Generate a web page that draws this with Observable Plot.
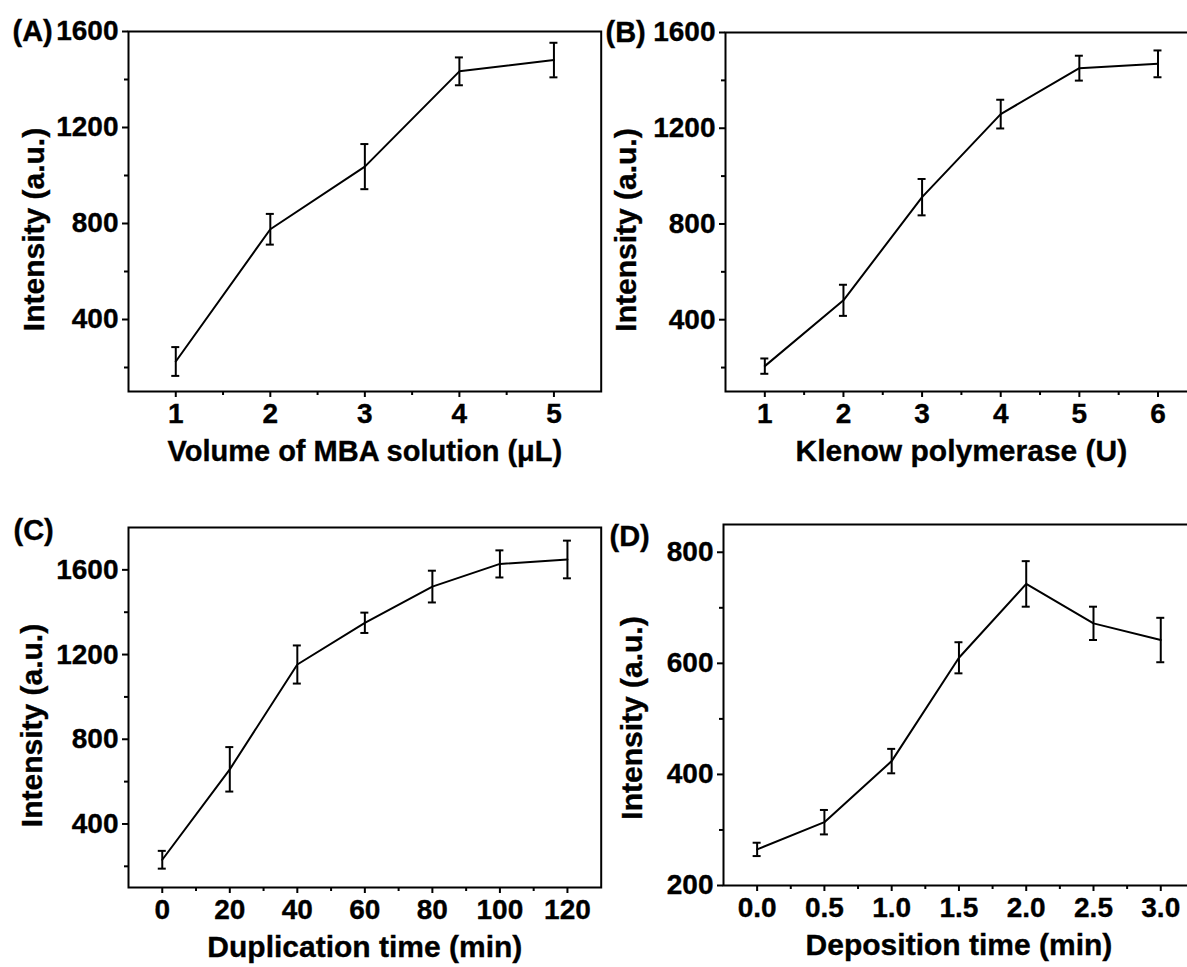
<!DOCTYPE html>
<html>
<head>
<meta charset="utf-8">
<script src="https://cdn.jsdelivr.net/npm/d3@7"></script>
<script src="https://cdn.jsdelivr.net/npm/@observablehq/plot@0.6"></script>
<style>
html, body { margin: 0; padding: 0; background: #fff; overflow: hidden; }
#fig { position: relative; width: 1187px; height: 967px; overflow: hidden; background: #fff; }
#fig svg text { stroke: #000; stroke-width: 0.35px; }
</style>
</head>
<body>
<div id="fig"></div>
<script>
// ---------- Data ----------
// (A) Volume of MBA solution
const volumeA = [1, 2, 3, 4, 5];
const intensityA = [225, 776, 1037, 1434, 1481];
const errorA = [60, 64, 94, 58, 72];
const xTicksA = [1, 2, 3, 4, 5];
const xMinorA = [1.5, 2.5, 3.5, 4.5];
const yTicksA = [400, 800, 1200, 1600];
const yMinorA = [200, 600, 1000, 1400];

// (B) Klenow polymerase
const klenowB = [1, 2, 3, 4, 5, 6];
const intensityB = [206, 481, 912, 1259, 1451, 1469];
const errorB = [32, 65, 76, 60, 52, 56];
const xTicksB = [1, 2, 3, 4, 5, 6];
const xMinorB = [1.5, 2.5, 3.5, 4.5, 5.5];
const yTicksB = [400, 800, 1200, 1600];
const yMinorB = [200, 600, 1000, 1400];

// (C) Duplication time
const timeC = [0, 20, 40, 60, 80, 100, 120];
const intensityC = [231, 658, 1153, 1350, 1521, 1628, 1649];
const errorC = [42, 105, 90, 48, 75, 64, 89];
const xTicksC = [0, 20, 40, 60, 80, 100, 120];
const xMinorC = [10, 30, 50, 70, 90, 110];
const yTicksC = [400, 800, 1200, 1600];
const yMinorC = [200, 600, 1000, 1400];

// (D) Deposition time
const timeD = [0, 0.5, 1.0, 1.5, 2.0, 2.5, 3.0];
const intensityD = [265, 314, 424, 610, 743, 672, 642];
const errorD = [12, 22, 22, 28, 41, 30, 40];
const xTicksD = [0, 0.5, 1.0, 1.5, 2.0, 2.5, 3.0];
const xMinorD = [0.25, 0.75, 1.25, 1.75, 2.25, 2.75];
const yTicksD = [200, 400, 600, 800];
const yMinorD = [300, 500, 700];

const yTitle = "Intensity (a.u.)";

// ---------- Drawing ----------
const FONT = "'Liberation Sans', Arial, Helvetica, sans-serif";

function rows(xs, ys, es) {
  return xs.map((x, i) => ({x, y: ys[i], lo: ys[i] - es[i], hi: ys[i] + es[i]}));
}

function panel(cfg) {
  const data = rows(cfg.xs, cfg.ys, cfg.es);
  const x0 = cfg.xDomain[0];
  const y0 = cfg.yDomain[0];
  const svg = Plot.plot({
    width: cfg.width,
    height: cfg.height,
    marginLeft: cfg.ml,
    marginRight: cfg.mr,
    marginTop: cfg.mt,
    marginBottom: cfg.mb,
    style: `background: transparent; color: #000; font-family: ${FONT}; font-size: 28px; font-weight: bold; overflow: visible; max-width: none;`,
    x: {domain: cfg.xDomain, ticks: cfg.xTicks, tickSize: 0, tickPadding: 12, tickFormat: cfg.xFormat, label: null},
    y: {domain: cfg.yDomain, ticks: cfg.yTicks, tickSize: 0, tickPadding: 10, tickFormat: d3.format("d"), label: null},
    marks: [
      Plot.frame({stroke: "#000", strokeWidth: 2}),
      // major / minor ticks (outward)
      Plot.ruleY(cfg.yTicks, {y: d => d, x1: x0, x2: x0, insetLeft: -6, insetRight: 0, stroke: "#000", strokeWidth: 2}),
      Plot.ruleY(cfg.yMinor, {y: d => d, x1: x0, x2: x0, insetLeft: -4, insetRight: 0, stroke: "#000", strokeWidth: 2}),
      Plot.ruleX(cfg.xTicks, {x: d => d, y1: y0, y2: y0, insetTop: 0, insetBottom: -6, stroke: "#000", strokeWidth: 2}),
      Plot.ruleX(cfg.xMinor, {x: d => d, y1: y0, y2: y0, insetTop: 0, insetBottom: -4, stroke: "#000", strokeWidth: 2}),
      // data
      Plot.line(data, {x: "x", y: "y", stroke: "#000", strokeWidth: 2, strokeLinejoin: "round"}),
      Plot.ruleX(data, {x: "x", y1: "lo", y2: "hi", stroke: "#000", strokeWidth: 2}),
      Plot.ruleY(data, {y: "hi", x1: "x", x2: "x", insetLeft: -4, insetRight: -4, stroke: "#000", strokeWidth: 2}),
      Plot.ruleY(data, {y: "lo", x1: "x", x2: "x", insetLeft: -4, insetRight: -4, stroke: "#000", strokeWidth: 2}),
      // titles
      Plot.text([cfg.xLabel], {frameAnchor: "bottom", text: d => d, textAnchor: "middle", lineAnchor: "middle", dy: cfg.xTitleDy, fontSize: cfg.xTitleSize, fontWeight: "bold", fill: "#000"}),
      Plot.text([yTitle], {frameAnchor: "left", text: d => d, textAnchor: "middle", lineAnchor: "middle", rotate: -90, dx: cfg.yTitleDx, dy: cfg.yTitleDy, fontSize: 30, fontWeight: "bold", fill: "#000"}),
      Plot.text([cfg.tag], {frameAnchor: "top-left", text: d => d, textAnchor: "start", lineAnchor: "middle", dx: cfg.tagDx, dy: cfg.tagDy, fontSize: 29, fontWeight: "bold", fill: "#000"})
    ]
  });
  svg.style.position = "absolute";
  svg.style.left = cfg.left + "px";
  svg.style.top = cfg.top + "px";
  document.getElementById("fig").appendChild(svg);
}

panel({
  xs: volumeA, ys: intensityA, es: errorA,
  xDomain: [0.5, 5.5], yDomain: [100, 1600],
  xTicks: xTicksA, xMinor: xMinorA, yTicks: yTicksA, yMinor: yMinorA,
  xFormat: d3.format("d"), xLabel: "Volume of MBA solution (\u03BCL)", tag: "(A)",
  left: 0, top: 0, width: 602, height: 480, ml: 128, mr: 1.3, mt: 31, mb: 89,
  xTitleDy: 60, xTitleSize: 29, yTitleDx: -94, yTitleDy: 18, tagDx: -116, tagDy: 0
});

panel({
  xs: klenowB, ys: intensityB, es: errorB,
  xDomain: [0.5, 6.5], yDomain: [100, 1600],
  xTicks: xTicksB, xMinor: xMinorB, yTicks: yTicksB, yMinor: yMinorB,
  xFormat: d3.format("d"), xLabel: "Klenow polymerase (U)", tag: "(B)",
  left: 596.7, top: 0, width: 602, height: 480, ml: 128, mr: 2.2, mt: 32, mb: 89,
  xTitleDy: 60, xTitleSize: 30, yTitleDx: -99, yTitleDy: 18, tagDx: -120, tagDy: 0
});

panel({
  xs: timeC, ys: intensityC, es: errorC,
  xDomain: [-10, 130], yDomain: [100, 1800],
  xTicks: xTicksC, xMinor: xMinorC, yTicks: yTicksC, yMinor: yMinorC,
  xFormat: d3.format("d"), xLabel: "Duplication time (min)", tag: "(C)",
  left: 0, top: 480, width: 602, height: 487, ml: 128, mr: 1.3, mt: 47, mb: 80,
  xTitleDy: 60, xTitleSize: 30, yTitleDx: -96, yTitleDy: 18, tagDx: -115, tagDy: 3
});

panel({
  xs: timeD, ys: intensityD, es: errorD,
  xDomain: [-0.25, 3.25], yDomain: [200, 850],
  xTicks: xTicksD, xMinor: xMinorD, yTicks: yTicksD, yMinor: yMinorD,
  xFormat: d3.format(".1f"), xLabel: "Deposition time (min)", tag: "(D)",
  left: 594.8, top: 480, width: 602, height: 487, ml: 128, mr: 3.1, mt: 44, mb: 82,
  xTitleDy: 60, xTitleSize: 30, yTitleDx: -91, yTitleDy: 13, tagDx: -114, tagDy: 12
});
</script>
</body>
</html>
